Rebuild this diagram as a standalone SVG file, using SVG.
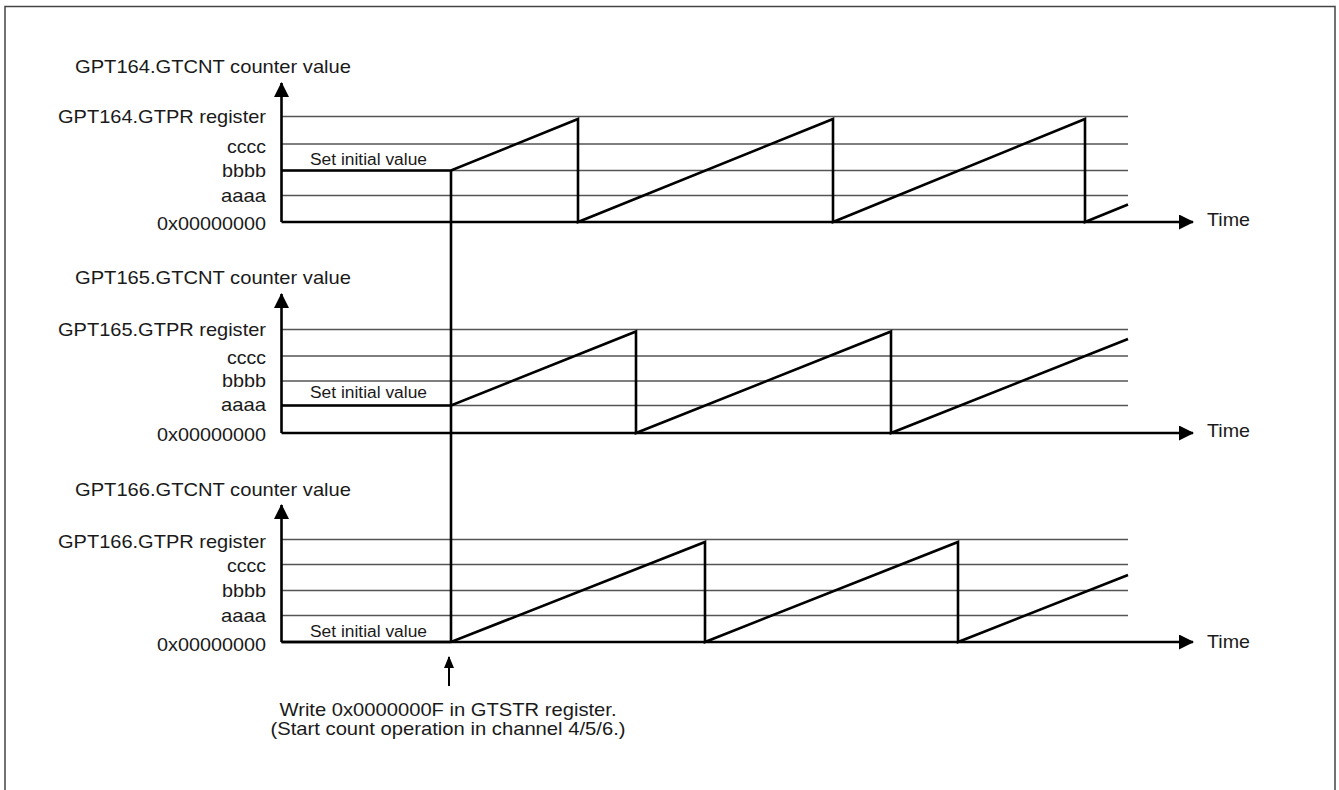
<svg xmlns="http://www.w3.org/2000/svg" width="1339" height="790" viewBox="0 0 1339 790">
<style>
text{font-family:"Liberation Sans",Arial,sans-serif;fill:#1a1a1a;font-size:18.5px}
.r{text-anchor:end}
.m{text-anchor:middle}
.s{font-size:16px}
.grid{stroke:#555;stroke-width:1.3;fill:none}
.thick{stroke:#000;stroke-width:2.6;fill:none;stroke-linejoin:miter}
.axis{stroke:#000;stroke-width:2.6;fill:none}
</style>
<defs>
<marker id="ah" viewBox="0 0 15 15" refX="14" refY="7.5" markerWidth="15" markerHeight="15" markerUnits="userSpaceOnUse" orient="auto">
<path d="M0,0 L15,7.5 L0,15 Z" fill="#000"/>
</marker>
<marker id="ahs" viewBox="0 0 12 10" refX="11" refY="5" markerWidth="12" markerHeight="10" markerUnits="userSpaceOnUse" orient="auto">
<path d="M0,0 L12,5 L0,10 Z" fill="#000"/>
</marker>
</defs>
<rect x="5" y="6.5" width="1330" height="800" fill="#fff" stroke="#444" stroke-width="1.5"/>

<g id="chart-gpt164">
<text x="75" y="73" textLength="276" lengthAdjust="spacingAndGlyphs">GPT164.GTCNT counter value</text>
<g class="grid">
<line x1="281" y1="116.5" x2="1128" y2="116.5"/>
<line x1="281" y1="144" x2="1128" y2="144"/>
<line x1="281" y1="170.5" x2="1128" y2="170.5"/>
<line x1="281" y1="195.5" x2="1128" y2="195.5"/>
</g>
<text class="r" x="266" y="123" textLength="208" lengthAdjust="spacingAndGlyphs">GPT164.GTPR register</text>
<text class="r" x="266" y="153" textLength="39" lengthAdjust="spacingAndGlyphs">cccc</text>
<text class="r" x="266" y="177" textLength="44" lengthAdjust="spacingAndGlyphs">bbbb</text>
<text class="r" x="266" y="202" textLength="45" lengthAdjust="spacingAndGlyphs">aaaa</text>
<text class="r" x="266" y="230" textLength="109" lengthAdjust="spacingAndGlyphs">0x00000000</text>
<path class="axis" d="M281.5,222 V83" marker-end="url(#ah)"/>
<path class="axis" d="M281.5,222 H1193" marker-end="url(#ah)"/>
<text x="1207" y="226" textLength="43" lengthAdjust="spacingAndGlyphs">Time</text>
<text class="s" x="310" y="165" textLength="117" lengthAdjust="spacingAndGlyphs">Set initial value</text>
<path class="thick" d="M281.5,170.5 H451 L578,119 V222 L833,119 V222 L1085,119 V222 L1128,204.5"/>
</g>

<g id="chart-gpt165">
<text x="75" y="284" textLength="276" lengthAdjust="spacingAndGlyphs">GPT165.GTCNT counter value</text>
<g class="grid">
<line x1="281" y1="329.5" x2="1128" y2="329.5"/>
<line x1="281" y1="356" x2="1128" y2="356"/>
<line x1="281" y1="381" x2="1128" y2="381"/>
<line x1="281" y1="405.5" x2="1128" y2="405.5"/>
</g>
<text class="r" x="266" y="336" textLength="208" lengthAdjust="spacingAndGlyphs">GPT165.GTPR register</text>
<text class="r" x="266" y="364" textLength="39" lengthAdjust="spacingAndGlyphs">cccc</text>
<text class="r" x="266" y="387" textLength="44" lengthAdjust="spacingAndGlyphs">bbbb</text>
<text class="r" x="266" y="411" textLength="45" lengthAdjust="spacingAndGlyphs">aaaa</text>
<text class="r" x="266" y="441" textLength="109" lengthAdjust="spacingAndGlyphs">0x00000000</text>
<path class="axis" d="M281.5,433 V294" marker-end="url(#ah)"/>
<path class="axis" d="M281.5,433 H1193" marker-end="url(#ah)"/>
<text x="1207" y="437" textLength="43" lengthAdjust="spacingAndGlyphs">Time</text>
<text class="s" x="310" y="398" textLength="117" lengthAdjust="spacingAndGlyphs">Set initial value</text>
<path class="thick" d="M281.5,405.5 H451 L636,331.5 V433 L891,331.5 V433 L1128,339"/>
</g>

<g id="chart-gpt166">
<text x="75" y="496" textLength="276" lengthAdjust="spacingAndGlyphs">GPT166.GTCNT counter value</text>
<g class="grid">
<line x1="281" y1="539.5" x2="1128" y2="539.5"/>
<line x1="281" y1="564.5" x2="1128" y2="564.5"/>
<line x1="281" y1="590.5" x2="1128" y2="590.5"/>
<line x1="281" y1="615.5" x2="1128" y2="615.5"/>
</g>
<text class="r" x="266" y="548" textLength="208" lengthAdjust="spacingAndGlyphs">GPT166.GTPR register</text>
<text class="r" x="266" y="572" textLength="39" lengthAdjust="spacingAndGlyphs">cccc</text>
<text class="r" x="266" y="597" textLength="44" lengthAdjust="spacingAndGlyphs">bbbb</text>
<text class="r" x="266" y="622" textLength="45" lengthAdjust="spacingAndGlyphs">aaaa</text>
<text class="r" x="266" y="651" textLength="109" lengthAdjust="spacingAndGlyphs">0x00000000</text>
<path class="axis" d="M281.5,642 V505" marker-end="url(#ah)"/>
<path class="axis" d="M281.5,642 H1193" marker-end="url(#ah)"/>
<text x="1207" y="648" textLength="43" lengthAdjust="spacingAndGlyphs">Time</text>
<text class="s" x="310" y="637" textLength="117" lengthAdjust="spacingAndGlyphs">Set initial value</text>
<path class="thick" d="M281.5,642 H451 L705,542 V642 L958,542 V642 L1128,575"/>
</g>

<g id="connectors">
<line x1="451" y1="170.5" x2="451" y2="642" stroke="#000" stroke-width="2.6"/>
<line x1="449" y1="686" x2="449" y2="657" stroke="#000" stroke-width="2" marker-end="url(#ahs)"/>
</g>

<g id="note">
<text class="m" x="448" y="716" textLength="337" lengthAdjust="spacingAndGlyphs">Write 0x0000000F in GTSTR register.</text>
<text class="m" x="448" y="735" textLength="355" lengthAdjust="spacingAndGlyphs">(Start count operation in channel 4/5/6.)</text>
</g>
</svg>
